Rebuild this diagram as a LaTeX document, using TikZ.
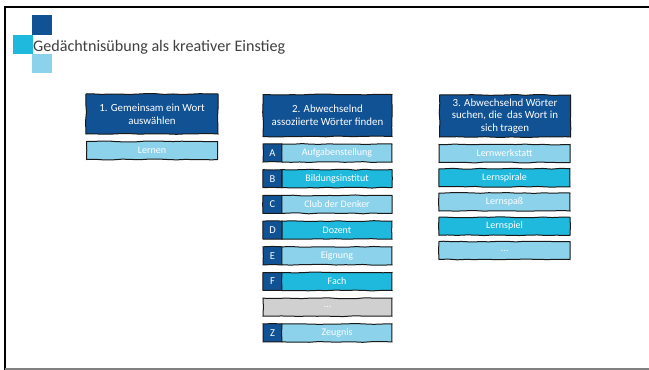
\documentclass[tikz,border=0pt]{standalone}
\usepackage{fontspec}
\setmainfont{Carlito}
\usetikzlibrary{decorations.pathmorphing}

\definecolor{darkblue}{RGB}{16,82,148}
\definecolor{cyanblue}{RGB}{30,185,220}
\definecolor{lightblue}{RGB}{140,210,235}
\definecolor{dotsgray}{RGB}{208,208,208}
\definecolor{titlegray}{RGB}{64,64,64}

\tikzset{
  sketch/.style={draw=black!90,line width=1pt,decorate,
    decoration={random steps,segment length=9pt,amplitude=0.45pt}},
  headbox/.style={sketch,fill=darkblue,text=white,align=center,
    font=\fontsize{10.9}{12.8}\selectfont,inner sep=2pt},
  itembox/.style={sketch,text=white,font=\fontsize{10}{11}\selectfont,
    minimum height=18pt,inner sep=1pt},
  letterbox/.style={sketch,fill=darkblue,text=white,
    font=\fontsize{10.5}{11}\selectfont,minimum width=19pt,minimum height=18pt,inner sep=1pt},
}

\begin{document}
\begin{tikzpicture}[x=1pt,y=-1pt]
  \pgfmathsetseed{7}
  \useasboundingbox (0,0) rectangle (649,370);
  \fill[white] (0,0) rectangle (649,370);

  % slide frame
  \draw[line width=2pt] (5,370) -- (5,7) -- (649,7);
  \draw[gray,line width=1.5pt] (5,369) -- (649,369);

  % logo squares and title
  \fill[darkblue] (32,15) rectangle (52,35);
  \fill[cyanblue] (13,35) rectangle (33,54);
  \fill[lightblue] (32,54) rectangle (52,73);
  \node[anchor=base west,inner sep=0pt,text=titlegray,font=\fontsize{16.1}{18}\selectfont]
    (title) at (33,51) {Gedächtnisübung als kreativer Einstieg};

  %%%%  Spalte 1
  \node[headbox,minimum width=132pt,minimum height=40pt] (h1) at (152,114)
    {1. Gemeinsam ein Wort\\auswählen};
  \node[itembox,fill=lightblue,minimum width=131pt] (wort) at (152,150.5) {Lernen};

  %%%%  Spalte 2
  \node[headbox,minimum width=129pt,minimum height=42pt] (h2) at (327.5,115.5)
    {2. Abwechselnd\\assoziierte Wörter finden};
  \foreach \l/\w/\c [count=\i from 0] in
    {A/Aufgabenstellung/lightblue,B/Bildungsinstitut/cyanblue,C/Club der Denker/lightblue,
     D/Dozent/cyanblue,E/Eignung/lightblue,F/Fach/cyanblue}
   {\node[letterbox] (l\l) at (272.5,{153+25.7*\i}) {\l};
    \node[itembox,fill=\c,minimum width=110pt] (w\l) at (337,{153+25.7*\i}) {\w};
   };
  \node[itembox,fill=dotsgray,minimum width=129pt] (wdots) at (327.5,307.2) {\dots};
  \node[letterbox] (lZ) at (272.5,332.9) {Z};
  \node[itembox,fill=lightblue,minimum width=110pt] (wZ) at (337,332.9) {Zeugnis};

  %%%%  Spalte 3
  \node[headbox,minimum width=131pt,minimum height=42pt] (h3) at (505,116)
    {3. Abwechselnd Wörter\\suchen, die\ \ das Wort in\\sich tragen};
  \foreach \w/\c [count=\i from 0] in
    {Lernwerkstatt/lightblue,Lernspirale/cyanblue,Lernspaß/lightblue,Lernspiel/cyanblue}
   {\node[itembox,fill=\c,minimum width=131pt] (s\i) at (504.5,{153.5+24.25*\i}) {\w};
   };
  \node[itembox,fill=lightblue,minimum width=131pt] (s4) at (504.5,250.5) {\dots};
\end{tikzpicture}
\end{document}
